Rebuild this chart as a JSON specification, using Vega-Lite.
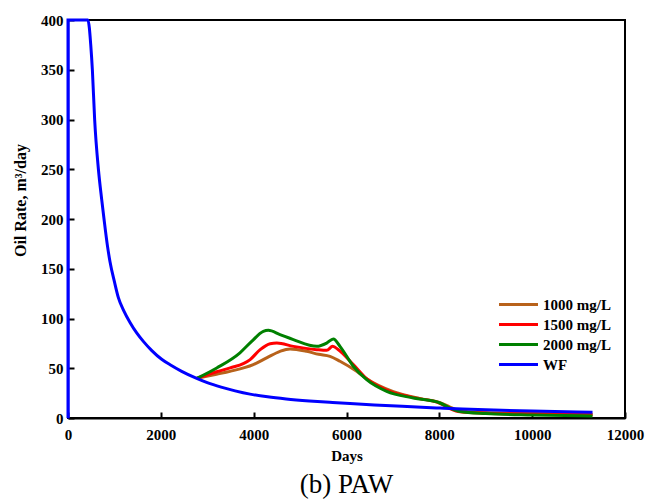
{
  "$schema": "https://vega.github.io/schema/vega-lite/v6.json",
  "width": 557,
  "height": 398,
  "autosize": {"type": "none"},
  "padding": {"left": 68, "top": 20, "right": 21, "bottom": 85},
  "background": "white",
  "config": {
    "view": {"stroke": "black", "strokeWidth": 2, "fill": "transparent"},
    "font": "Liberation Serif",
    "axis": {
      "grid": false,
      "zindex": 1,
      "labelFont": "Liberation Serif",
      "labelFontWeight": "bold",
      "labelFontSize": 15,
      "labelColor": "black",
      "titleFont": "Liberation Serif",
      "titleFontWeight": "bold",
      "titleFontSize": 15,
      "titleColor": "black"
    },
    "legend": {
      "labelFont": "Liberation Serif",
      "labelFontWeight": "bold",
      "labelFontSize": 15,
      "labelColor": "black"
    }
  },
  "title": {
    "text": "(b) PAW",
    "orient": "bottom",
    "font": "Liberation Serif",
    "fontSize": 27,
    "fontWeight": "normal",
    "color": "black",
    "offset": 9
  },
  "data": {
    "values": [
      {"series": "WF", "days": 0, "rate": 0},
      {"series": "WF", "days": 0, "rate": 400},
      {"series": "WF", "days": 430, "rate": 400},
      {"series": "WF", "days": 460, "rate": 392},
      {"series": "WF", "days": 490, "rate": 375},
      {"series": "WF", "days": 525, "rate": 350},
      {"series": "WF", "days": 574, "rate": 300},
      {"series": "WF", "days": 655, "rate": 250},
      {"series": "WF", "days": 725, "rate": 220},
      {"series": "WF", "days": 776, "rate": 200},
      {"series": "WF", "days": 850, "rate": 173},
      {"series": "WF", "days": 905, "rate": 157},
      {"series": "WF", "days": 1000, "rate": 137},
      {"series": "WF", "days": 1085, "rate": 121},
      {"series": "WF", "days": 1200, "rate": 108},
      {"series": "WF", "days": 1336, "rate": 96},
      {"series": "WF", "days": 1480, "rate": 85.5},
      {"series": "WF", "days": 1623, "rate": 77},
      {"series": "WF", "days": 1800, "rate": 68},
      {"series": "WF", "days": 2018, "rate": 59},
      {"series": "WF", "days": 2200, "rate": 53.5},
      {"series": "WF", "days": 2449, "rate": 46.9},
      {"series": "WF", "days": 2773, "rate": 39.8},
      {"series": "WF", "days": 3000, "rate": 35.5},
      {"series": "WF", "days": 3300, "rate": 31},
      {"series": "WF", "days": 3600, "rate": 27.3},
      {"series": "WF", "days": 3921, "rate": 24},
      {"series": "WF", "days": 4300, "rate": 21.3},
      {"series": "WF", "days": 4700, "rate": 19.2},
      {"series": "WF", "days": 5200, "rate": 17.2},
      {"series": "WF", "days": 5700, "rate": 15.6},
      {"series": "WF", "days": 6075, "rate": 14.5},
      {"series": "WF", "days": 6600, "rate": 13.1},
      {"series": "WF", "days": 7200, "rate": 11.7},
      {"series": "WF", "days": 8014, "rate": 10},
      {"series": "WF", "days": 8500, "rate": 9},
      {"series": "WF", "days": 9000, "rate": 8.2},
      {"series": "WF", "days": 10000, "rate": 7},
      {"series": "WF", "days": 11300, "rate": 5.8},

      {"series": "1000 mg/L", "days": 2773, "rate": 39.8},
      {"series": "1000 mg/L", "days": 3200, "rate": 44},
      {"series": "1000 mg/L", "days": 3490, "rate": 46.9},
      {"series": "1000 mg/L", "days": 3992, "rate": 53.6},
      {"series": "1000 mg/L", "days": 4280, "rate": 60.4},
      {"series": "1000 mg/L", "days": 4567, "rate": 67},
      {"series": "1000 mg/L", "days": 4783, "rate": 69.4},
      {"series": "1000 mg/L", "days": 5142, "rate": 67},
      {"series": "1000 mg/L", "days": 5400, "rate": 64},
      {"series": "1000 mg/L", "days": 5644, "rate": 62},
      {"series": "1000 mg/L", "days": 5860, "rate": 57},
      {"series": "1000 mg/L", "days": 6219, "rate": 46.9},
      {"series": "1000 mg/L", "days": 6434, "rate": 39.5},
      {"series": "1000 mg/L", "days": 7009, "rate": 26.5},
      {"series": "1000 mg/L", "days": 7584, "rate": 19.5},
      {"series": "1000 mg/L", "days": 8014, "rate": 15.5},
      {"series": "1000 mg/L", "days": 8229, "rate": 11},
      {"series": "1000 mg/L", "days": 8445, "rate": 7},
      {"series": "1000 mg/L", "days": 9000, "rate": 5.5},
      {"series": "1000 mg/L", "days": 10000, "rate": 4.5},
      {"series": "1000 mg/L", "days": 11300, "rate": 3.8},

      {"series": "1500 mg/L", "days": 2773, "rate": 39.8},
      {"series": "1500 mg/L", "days": 3200, "rate": 46.5},
      {"series": "1500 mg/L", "days": 3493, "rate": 50.3},
      {"series": "1500 mg/L", "days": 3924, "rate": 58.7},
      {"series": "1500 mg/L", "days": 4140, "rate": 68.7},
      {"series": "1500 mg/L", "days": 4355, "rate": 74.7},
      {"series": "1500 mg/L", "days": 4499, "rate": 75.4},
      {"series": "1500 mg/L", "days": 4855, "rate": 72},
      {"series": "1500 mg/L", "days": 5358, "rate": 68.7},
      {"series": "1500 mg/L", "days": 5573, "rate": 68},
      {"series": "1500 mg/L", "days": 5702, "rate": 72},
      {"series": "1500 mg/L", "days": 5825, "rate": 68.7},
      {"series": "1500 mg/L", "days": 6147, "rate": 53.6},
      {"series": "1500 mg/L", "days": 6434, "rate": 39.5},
      {"series": "1500 mg/L", "days": 6865, "rate": 28},
      {"series": "1500 mg/L", "days": 7440, "rate": 20.5},
      {"series": "1500 mg/L", "days": 8014, "rate": 14.8},
      {"series": "1500 mg/L", "days": 8229, "rate": 9.5},
      {"series": "1500 mg/L", "days": 8445, "rate": 6.2},
      {"series": "1500 mg/L", "days": 9000, "rate": 4.8},
      {"series": "1500 mg/L", "days": 10000, "rate": 4},
      {"series": "1500 mg/L", "days": 11300, "rate": 3.3},

      {"series": "2000 mg/L", "days": 2773, "rate": 39.8},
      {"series": "2000 mg/L", "days": 3205, "rate": 50.3},
      {"series": "2000 mg/L", "days": 3705, "rate": 65.5},
      {"series": "2000 mg/L", "days": 3957, "rate": 77},
      {"series": "2000 mg/L", "days": 4208, "rate": 87.1},
      {"series": "2000 mg/L", "days": 4316, "rate": 88.1},
      {"series": "2000 mg/L", "days": 4567, "rate": 83.8},
      {"series": "2000 mg/L", "days": 4855, "rate": 78.8},
      {"series": "2000 mg/L", "days": 5358, "rate": 72},
      {"series": "2000 mg/L", "days": 5573, "rate": 75.3},
      {"series": "2000 mg/L", "days": 5717, "rate": 79.5},
      {"series": "2000 mg/L", "days": 5860, "rate": 72},
      {"series": "2000 mg/L", "days": 6147, "rate": 52},
      {"series": "2000 mg/L", "days": 6434, "rate": 38.5},
      {"series": "2000 mg/L", "days": 6865, "rate": 26.8},
      {"series": "2000 mg/L", "days": 7440, "rate": 20.1},
      {"series": "2000 mg/L", "days": 8014, "rate": 15.1},
      {"series": "2000 mg/L", "days": 8229, "rate": 10},
      {"series": "2000 mg/L", "days": 8445, "rate": 6.6},
      {"series": "2000 mg/L", "days": 9000, "rate": 4.5},
      {"series": "2000 mg/L", "days": 10000, "rate": 3},
      {"series": "2000 mg/L", "days": 11300, "rate": 2}
    ]
  },
  "layer": [
    {
      "transform": [{"filter": "datum.series !== 'WF'"}],
      "mark": {"type": "line", "strokeWidth": 3, "interpolate": "monotone"},
      "encoding": {
        "x": {"field": "days", "type": "quantitative"},
        "y": {"field": "rate", "type": "quantitative"},
        "color": {"field": "series", "type": "nominal"}
      }
    },
    {
      "transform": [{"filter": "datum.series === 'WF'"}],
      "mark": {"type": "line", "strokeWidth": 3, "interpolate": "monotone"},
      "encoding": {
        "x": {"field": "days", "type": "quantitative"},
        "y": {"field": "rate", "type": "quantitative"},
        "color": {"field": "series", "type": "nominal"}
      }
    }
  ],
  "resolve": {"scale": {"color": "shared"}},
  "encoding": {
    "x": {
      "field": "days",
      "type": "quantitative",
      "title": "Days",
      "scale": {"domain": [0, 12000], "nice": false},
      "axis": {"values": [0, 2000, 4000, 6000, 8000, 10000, 12000], "format": "d", "domainColor": "black", "domainWidth": 2, "tickColor": "black", "tickWidth": 2, "tickSize": -6, "labelPadding": 15, "titlePadding": 6, "labelFlush": false}
    },
    "y": {
      "field": "rate",
      "type": "quantitative",
      "title": "Oil Rate, m³/day",
      "scale": {"domain": [0, 400], "nice": false},
      "axis": {"values": [0, 50, 100, 150, 200, 250, 300, 350, 400], "format": "d", "domainColor": "#0000FF", "domainWidth": 2, "tickColor": "black", "tickWidth": 2, "tickSize": -6, "labelPadding": 11, "titlePadding": 12, "titleFontSize": 16, "titleY": 180, "labelFlush": false}
    },
    "color": {
      "field": "series",
      "type": "nominal",
      "scale": {
        "domain": ["1000 mg/L", "1500 mg/L", "2000 mg/L", "WF"],
        "range": ["#B8621B", "#FF0000", "#008000", "#0000FF"]
      },
      "legend": {
        "title": null,
        "orient": "none",
        "legendX": 439,
        "legendY": 273,
        "symbolType": "M-2,0H2",
        "symbolSize": 380,
        "symbolStrokeWidth": 3,
        "rowPadding": 0,
        "labelOffset": 13
      }
    }
  }
}
